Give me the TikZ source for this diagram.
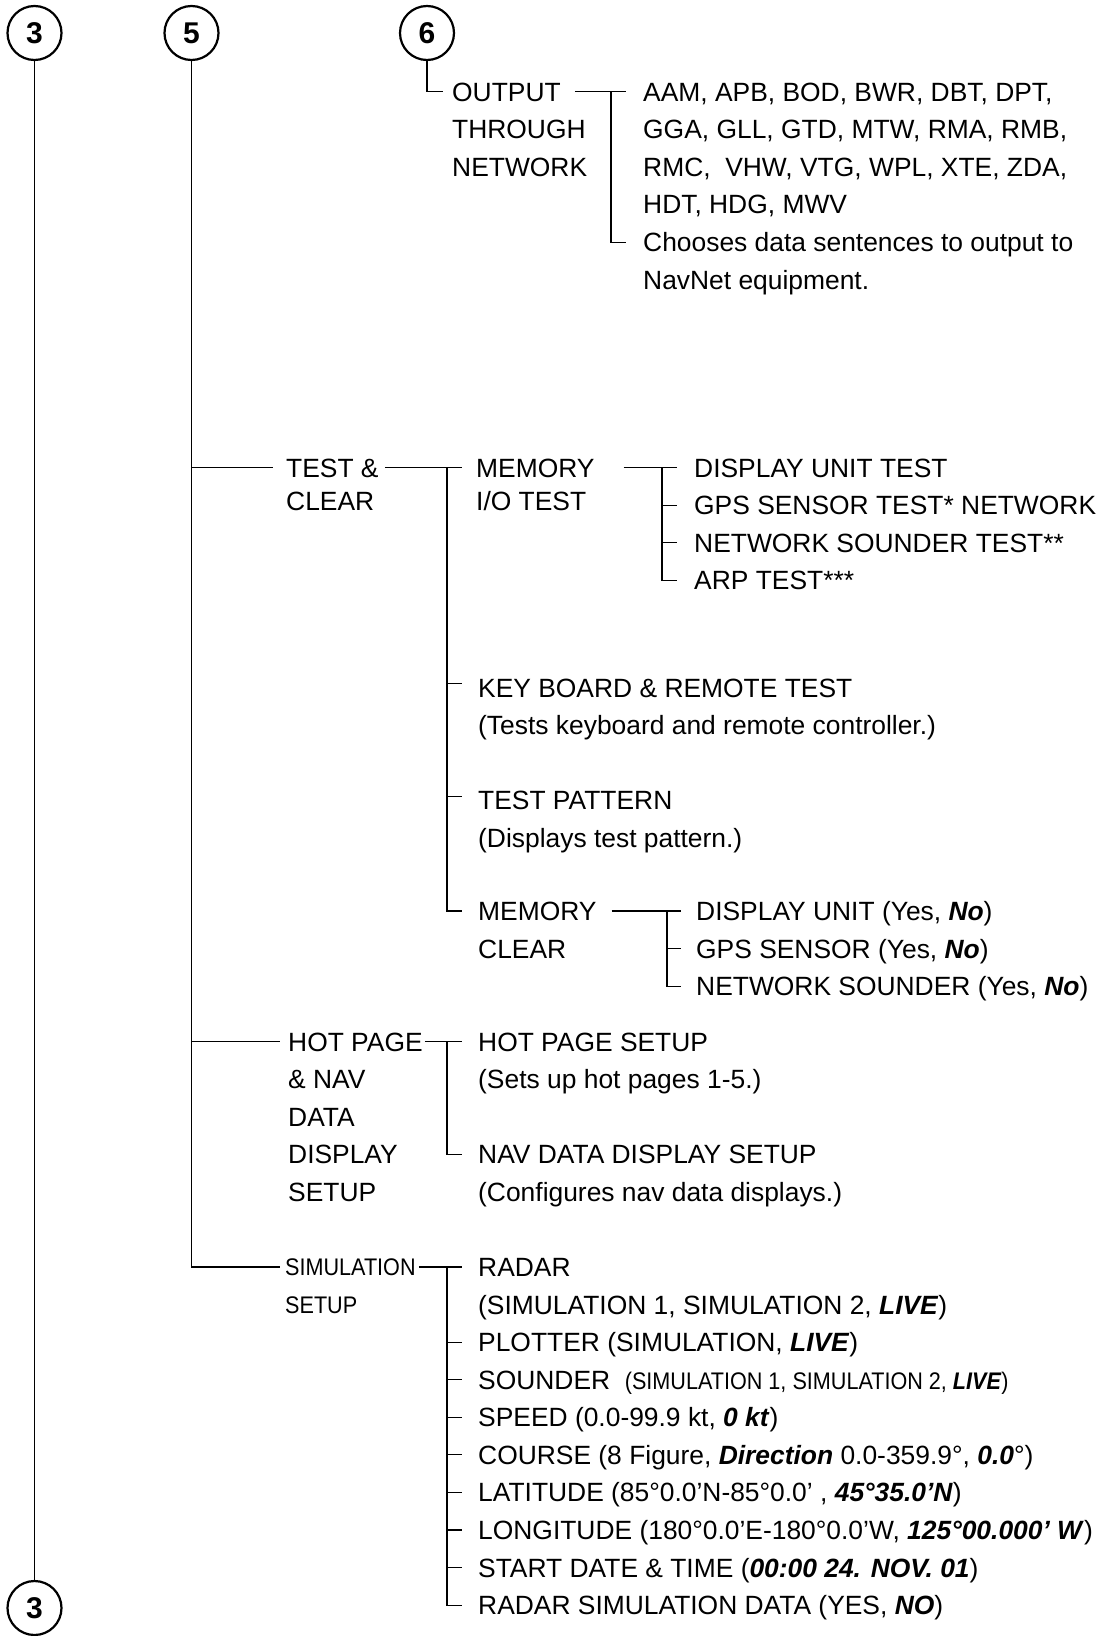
\documentclass[tikz,border=0pt]{standalone}
\usepackage{fontspec}
\setmainfont{Liberation Sans}
\newfontfamily\narrowfont[FakeStretch=0.9]{Liberation Sans}
\usepackage{tikz}
\usetikzlibrary{calc}
\newcommand{\bival}[1]{\textbf{\textit{#1}}}
\newcommand{\rowstep}{37.57}
\tikzset{
  num/.style={draw, circle, line width=2.2pt, minimum size=54pt, inner sep=0pt, font=\fontsize{30}{30}\selectfont\bfseries},
  lbl/.style={anchor=west, inner sep=0pt, text height=18.9pt, text depth=0pt, font=\fontsize{26.4}{30}\selectfont},
  sml/.style={lbl, text height=17.2pt, font=\narrowfont\fontsize{24}{28}\selectfont},
  wire/.style={line width=1.1pt}
}

\begin{document}
\begin{tikzpicture}[x=1pt, y=-1pt]
\useasboundingbox (0,0) rectangle (1099,1636);

% page markers
\node[num] (c3a) at (34.5,33) {3};
\node[num] (c5) at (191.5,33) {5};
\node[num] (c6) at (427,33) {6};
\node[num] (c3b) at (34.5,1608) {3};
\draw[wire] (c3a) -- (c3b);

% output through network
\node[lbl] (out1) at (452,91.8) {OUTPUT};
\node[lbl] (out2) at (452,129.4) {THROUGH};
\node[lbl] (out3) at (452,167) {NETWORK};
\foreach \txt [count=\i] in {{AAM, APB, BOD, BWR, DBT, DPT,}, {GGA, GLL, GTD, MTW, RMA, RMB,}, {RMC,\ \ VHW, VTG, WPL, XTE, ZDA,}, {HDT, HDG, MWV}}
  \node[lbl] (s\i) at (643,{91.8+(\i-1)*\rowstep}) {\txt};
\node[lbl] (ch1) at (643,242.1) {Chooses data sentences to output to};
\node[lbl] (ch2) at (643,279.7) {NavNet equipment.};
\draw[wire] (c6.south) |- ([xshift=-9pt]out1.west);
\draw[wire] ([xshift=14pt]out1.east) -- ([xshift=-17pt]s1.west);
\draw[wire] ([xshift=-32pt]s1.west) |- ([xshift=-17pt]ch1.west);

% test & clear
\node[lbl] (t1) at (286,467.6) {TEST \&};
\node[lbl] (t2) at (286,501) {CLEAR};
\node[lbl] (m1) at (476,467.6) {MEMORY};
\node[lbl] (m2) at (476,501) {I/O TEST};
\foreach \txt [count=\i] in {DISPLAY UNIT TEST, GPS SENSOR TEST* NETWORK, NETWORK SOUNDER TEST**, ARP TEST***}
  \node[lbl] (d\i) at (694,{467.6+(\i-1)*\rowstep}) {\txt};
\node[lbl] (k1) at (478,687.8) {KEY BOARD \& REMOTE TEST};
\node[lbl] (k2) at (478,725.4) {(Tests keyboard and remote controller.)};
\node[lbl] (p1) at (478,800.5) {TEST PATTERN};
\node[lbl] (p2) at (478,838) {(Displays test pattern.)};
\node[lbl] (mc1) at (478,911) {MEMORY};
\node[lbl] (mc2) at (478,948.7) {CLEAR};
\foreach \txt [count=\i] in {DISPLAY UNIT, GPS SENSOR, NETWORK SOUNDER}
  \node[lbl] (e\i) at (696,{911+(\i-1)*\rowstep}) {\txt{} (Yes, \bival{No})};
\draw[wire] (c5.south |- t1.west) -- ([xshift=-13pt]t1.west);
\draw[wire] ([xshift=6pt]t1.east) -- ([xshift=-14pt]m1.west);
\draw[wire] ([xshift=-29pt]m1.west) |- ([xshift=-16pt]mc1.west);
\draw[wire] ([xshift=-31pt,yshift=4pt]k1.west) -- ([xshift=-16pt,yshift=4pt]k1.west);
\draw[wire] ([xshift=-31pt,yshift=4pt]p1.west) -- ([xshift=-16pt,yshift=4pt]p1.west);
\draw[wire] ([xshift=29pt]m1.east) -- ([xshift=-17pt]d1.west);
\draw[wire] ([xshift=-32pt]d1.west) |- ([xshift=-17pt]d4.west);
\foreach \i in {2,3}
  \draw[wire] ([xshift=-32pt]d\i.west) -- ([xshift=-17pt]d\i.west);
\draw[wire] ([xshift=15pt]mc1.east) -- ([xshift=-15pt]e1.west);
\draw[wire] ([xshift=-29pt]e1.west) |- ([xshift=-15pt]e3.west);
\draw[wire] ([xshift=-29pt]e2.west) -- ([xshift=-15pt]e2.west);

% hot page & nav data
\foreach \txt [count=\i] in {HOT PAGE, \& NAV, DATA, DISPLAY, SETUP}
  \node[lbl] (h\i) at (288,{1041.6+(\i-1)*\rowstep}) {\txt};
\node[lbl] (hp1) at (478,1041.6) {HOT PAGE SETUP};
\node[lbl] (hp2) at (478,1079.2) {(Sets up hot pages 1-5.)};
\node[lbl] (nv1) at (478,1154.3) {NAV DATA DISPLAY SETUP};
\node[lbl] (nv2) at (478,1191.9) {(Configures nav data displays.)};
\draw[wire] (c5.south |- h1.west) -- ([xshift=-8pt]h1.west);
\draw[wire] ([xshift=2pt]h1.east) -- ([xshift=-16pt]hp1.west);
\draw[wire] ([xshift=-31pt]hp1.west) |- ([xshift=-16pt]nv1.west);

% simulation setup
\node[sml] (sm1) at (285,1267) {SIMULATION};
\node[sml] (sm2) at (285,1304.6) {SETUP};
\foreach \txt [count=\i] in {RADAR,
    {(SIMULATION 1, SIMULATION 2, \bival{LIVE})},
    {PLOTTER (SIMULATION, \bival{LIVE})},
    {SOUNDER\ \ {\narrowfont\fontsize{24}{28}\selectfont(SIMULATION 1, SIMULATION 2, \bival{LIVE})}},
    {SPEED (0.0-99.9 kt, \bival{0 kt})},
    {COURSE (8 Figure, \bival{Direction} 0.0-359.9°, \bival{0.0}°)},
    {LATITUDE (85°0.0'N-85°0.0' , \bival{45°35.0'N})},
    {LONGITUDE (180°0.0'E-180°0.0'W, \bival{125°00.000' W})},
    {START DATE \& TIME (\bival{00:00 24. NOV. 01})},
    {RADAR SIMULATION DATA (YES, \bival{NO})}}
  \node[lbl] (r\i) at (478,{1267+(\i-1)*\rowstep}) {\txt};
\draw[wire] (c5.south) |- ([xshift=-5pt]sm1.west);
\draw[wire] ([xshift=3pt]sm1.east) -- ([xshift=-16pt]r1.west);
\draw[wire] ([xshift=-31pt]r1.west) |- ([xshift=-16pt]r10.west);
\foreach \i in {3,...,9}
  \draw[wire] ([xshift=-31pt]r\i.west) -- ([xshift=-16pt]r\i.west);
\end{tikzpicture}
\end{document}
